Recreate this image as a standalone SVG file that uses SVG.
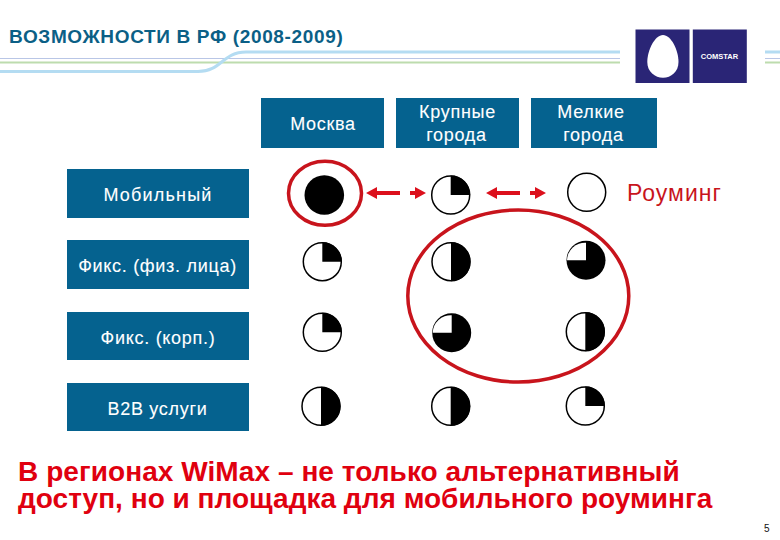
<svg xmlns="http://www.w3.org/2000/svg" width="780" height="540" viewBox="0 0 780 540">
<style>
text{font-family:"Liberation Sans",Arial,sans-serif}
.box{fill:#05628f}
.lbl{fill:#fff;font-size:18px;text-anchor:middle;letter-spacing:.7px;stroke:#fff;stroke-width:.1}
.out{fill:#fff;stroke:#000;stroke-width:1.5}
.fill{fill:#000}
.red{fill:none;stroke:#c8141c;stroke-width:3.5}
.ar{fill:none;stroke:#dc101c;stroke-width:4}
.ah{fill:#dc101c}
</style>
<defs>
<g id="p0"><circle r="19" class="out"/></g>
<g id="p25"><circle r="19" class="out"/><path class="fill" d="M0 0V-19.5A19.5 19.5 0 0 1 19.5 0Z"/></g>
<g id="p50"><circle r="19" class="out"/><path class="fill" d="M0-19.5A19.5 19.5 0 0 1 0 19.5Z"/></g>
<g id="p75"><circle r="19.5" class="fill"/><path fill="#fff" d="M0 0V-17.5A18 18 0 0 0 -19 0Z"/></g>
<g id="p100"><circle r="19.8" class="fill"/></g>
</defs>
<rect width="780" height="540" fill="#fff"/>
<text x="9" y="42.500" font-size="19" font-weight="bold" fill="#0b5f86" letter-spacing=".65">ВОЗМОЖНОСТИ В РФ (2008-2009)</text>
<g id="header-lines" fill="none">
<path d="M0 58.500H620M765 58.500H780" stroke="#b9c6e6" stroke-width="1"/>
<path d="M0 62.500H620M765 62.500H780" stroke="#bddcae" stroke-width="2"/>
<path d="M0 71.500H198C222 71.500 222 52 246 52H620M765 52H780" stroke="#b4dcf2" stroke-width="3"/>
</g>
<g id="logo">
<rect x="635.500" y="29.500" width="54" height="53.500" fill="#2a2576"/>
<rect x="692.800" y="29.500" width="54" height="53.500" fill="#2a2576"/>
<path d="M663 35C671 35 678.500 50 678.500 62C678.500 72 671 77.700 663 77.700C655 77.700 647.300 72 647.300 62C647.300 50 655 35 663 35Z" fill="#fff"/>
<text x="719.500" y="59" font-size="7.500" font-weight="bold" fill="#fff" text-anchor="middle">COMSTAR</text>
</g>
<g id="col-moskva"><rect class="box" x="261" y="98" width="123" height="50"/><text class="lbl" x="323" y="129.500">Москва</text></g>
<g id="col-large"><rect class="box" x="396" y="98" width="123" height="50"/><text class="lbl" x="457.500" y="118">Крупные</text><text class="lbl" x="456.500" y="141">города</text></g>
<g id="col-small"><rect class="box" x="531" y="98" width="126" height="50"/><text class="lbl" x="591" y="118">Мелкие</text><text class="lbl" x="593.500" y="141">города</text></g>
<g id="row-mobile"><rect class="box" x="67" y="169" width="182" height="49"/><text class="lbl" x="158" y="200.500" style="letter-spacing:1.2px">Мобильный</text></g>
<g id="row-fix-phys"><rect class="box" x="67" y="240" width="182" height="49"/><text class="lbl" x="157.500" y="272">Фикс. (физ. лица)</text></g>
<g id="row-fix-corp"><rect class="box" x="67" y="312" width="182" height="48"/><text class="lbl" x="158" y="344">Фикс. (корп.)</text></g>
<g id="row-b2b"><rect class="box" x="67" y="383" width="182" height="48"/><text class="lbl" x="157.500" y="415">B2B услуги</text></g>
<g id="pies">
<use href="#p100" x="324.300" y="195"/><use href="#p25" x="450.700" y="195"/><use href="#p0" x="586.700" y="192.300"/>
<use href="#p25" x="322.300" y="261.700"/><use href="#p50" x="451" y="261.700"/><use href="#p75" x="586" y="260.300"/>
<use href="#p25" x="322.300" y="332.300"/><use href="#p75" x="451.700" y="332.700"/><use href="#p50" x="585.300" y="331.700"/>
<use href="#p50" x="321" y="406.300"/><use href="#p50" x="450.700" y="406.300"/><use href="#p25" x="585.300" y="406"/>
</g>
<g id="connectors">
<ellipse class="red" cx="325" cy="193.300" rx="36.500" ry="32"/>
<ellipse class="red" cx="518.300" cy="296" rx="110.500" ry="86"/>
<g id="arrow-1"><path class="ar" d="M372 193H400M410 193H420"/><path class="ah" d="M366 193L377 187V199ZM426 193L415 187V199Z"/></g>
<g id="arrow-2"><path class="ar" d="M492 193H520M530 193H540"/><path class="ah" d="M486 193L497 187V199ZM546 193L535 187V199Z"/></g>
</g>
<text x="627" y="201" font-size="23" fill="#c8141c" letter-spacing="1">Роуминг</text>
<text font-size="28" font-weight="bold" fill="#e0000f"><tspan x="18" y="481" letter-spacing=".07">В регионах WiMax – не только альтернативный</tspan><tspan x="18" y="508" letter-spacing=".02">доступ, но и площадка для мобильного роуминга</tspan></text>
<text x="764" y="532" font-size="10" fill="#111">5</text>
</svg>
